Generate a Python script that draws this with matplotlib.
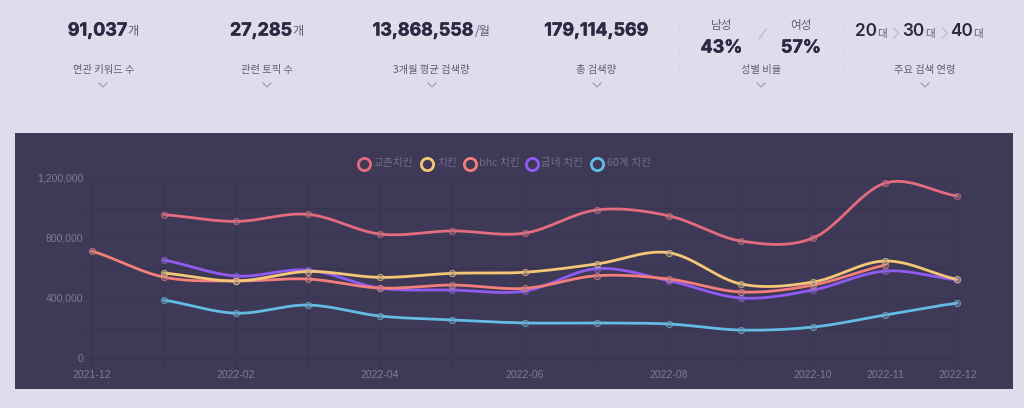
import numpy as np
import matplotlib
matplotlib.use("Agg")
import matplotlib.pyplot as plt
import matplotlib.patheffects as pe
from matplotlib.colors import to_rgba
from matplotlib.patches import Rectangle

W, H = 1024, 408
KR = ['Noto Sans CJK KR', 'DejaVu Sans']
NUM = ['Inter', 'Noto Sans CJK KR', 'DejaVu Sans']
plt.rcParams['font.family'] = KR

months = ['2021-12', '2022-01', '2022-02', '2022-03', '2022-04', '2022-05', '2022-06',
          '2022-07', '2022-08', '2022-09', '2022-10', '2022-11', '2022-12']
shown_ticks = ['2021-12', '2022-02', '2022-04', '2022-06', '2022-08', '2022-10', '2022-11', '2022-12']
nan = float('nan')
kyochon = [nan, 953000, 908000, 955000, 824000, 845000, 830000, 984000, 945000, 778000, 798000, 1163000, 1077000]
chicken = [nan, 565000, 512000, 575000, 536000, 563000, 570000, 625000, 700000, 492000, 505000, 645000, 522000]
bhc = [711000, 538000, 512000, 525000, 465000, 485000, 463000, 547000, 525000, 439000, 485000, 618000, nan]
goobne = [nan, 651000, 545000, 585000, 465000, 452000, 445000, 594000, 514000, 399000, 452000, 578000, 519000]
sixty = [nan, 385000, 298000, 352000, 279000, 253000, 233000, 233000, 226000, 186000, 206000, 286000, 365000]
series_names = ['교촌치킨', '치킨', 'bhc 치킨', '굽네 치킨', '60계 치킨']
series_values = [kyochon, chicken, bhc, goobne, sixty]
series_colors = ['#E56B7E', '#F5C877', '#F47F7A', '#8F5BF2', '#62BCE4']
series_order = [6, 5, 4, 3, 2]

kpi_values = ['91,037', '27,285', '13,868,558', '179,114,569']
kpi_units = ['개', '개', '/월', '']
kpi_labels = ['연관 키워드 수', '관련 토픽 수', '3개월 평균 검색량', '총 검색량']
gender_labels = ['남성', '여성']
gender_values = ['43%', '57%']
age_values = ['20', '30', '40']

BG = '#DEDDEC'
PANEL = '#3E3956'
DARK = '#2C2A42'
GREY = '#5F5D76'
GRID = '#38334F'
TICK = '#7F7B93'
BOLD = [pe.withStroke(linewidth=0.35, foreground=DARK)]

fig = plt.figure(figsize=(W / 100, H / 100), dpi=100, facecolor=BG)
over = fig.add_axes([0, 0, 1, 1], zorder=0)
over.set_xlim(0, W)
over.set_ylim(H, 0)
over.axis('off')

over.add_patch(Rectangle((15, 133), 998, 256, fc=PANEL, ec='none'))
for x, c in zip([185, 350, 515, 679, 843], ['#DBDAEA', '#DBDAEA', '#D7D6E7', '#D3D2E4', '#D3D2E4']):
    over.plot([x, x], [17, 90], color=c, lw=0.6, ls=(0, (2, 2)))


def chevron(cx, cy=85):
    over.plot([cx - 4, cx, cx + 4], [cy - 2, cy + 2, cy - 2], color='#9C9AB0', lw=0.8)


def value_with_unit(cx, y, num, unit, size=12.9, usize=8.8, gap=0.5):
    r = fig.canvas.get_renderer()
    a = over.text(0, y, num, fontsize=size, fontweight='bold', color=DARK, family=NUM, va='center', ha='left',
                  path_effects=BOLD)
    wa = a.get_window_extent(r).width
    wb = 0
    if unit:
        b = over.text(0, y + 0.5, unit, fontsize=usize, color=GREY, family=KR, va='center', ha='left')
        wb = b.get_window_extent(r).width
    x0 = cx - (wa + gap + wb) / 2
    a.set_x(x0)
    if unit:
        b.set_x(x0 + wa + gap)


for cx, chev, v, u, l in zip([103.5, 267, 431.5, 596.5], [103, 267, 432, 597], kpi_values, kpi_units, kpi_labels):
    value_with_unit(cx, 31, v, u)
    over.text(cx, 69.5, l, fontsize=7.4, color=GREY, ha='center', va='center')
    chevron(chev)

# gender block
for cx, g, p in zip([721.5, 801], gender_labels, gender_values):
    over.text(cx, 26, g, fontsize=8.4, color=GREY, ha='center', va='center')
    over.text(cx, 48, p, fontsize=12.9, fontweight='bold', color=DARK, family=NUM, ha='center', va='center',
              path_effects=BOLD)
over.plot([759, 766], [39, 29], color='#B9B8CB', lw=0.9)
over.text(761, 69.5, '성별 비율', fontsize=7.4, color=GREY, ha='center', va='center')
chevron(761)

# age block
for x0, a in zip([854.5, 902.5, 950.5], age_values):
    over.text(x0, 32, a, fontsize=12.4, fontweight='semibold', color=DARK, family=NUM, ha='left', va='center')
    over.text(x0 + 22.5, 34, '대', fontsize=7.6, color=GREY, ha='left', va='center')
for cx in [896, 945]:
    over.plot([cx - 2.5, cx + 2.5, cx - 2.5], [28, 33, 38], color='#BDBCCE', lw=0.9)
over.text(925, 69.5, '주요 검색 연령', fontsize=7.4, color=GREY, ha='center', va='center')
chevron(925)

# chart
x_left, x_right, y_top, y_bot = 91.5, 957.5, 177.5, 358.0
ax = fig.add_axes([x_left / W, 1 - y_bot / H, (x_right - x_left) / W, (y_bot - y_top) / H], zorder=1)
ax.patch.set_alpha(0)
for s in ax.spines.values():
    s.set_visible(False)
x_idx = np.arange(len(months))
ax.set_xlim(0, len(months) - 1)
ax.set_ylim(0, 1200000)

for y in np.arange(0, 1200001, 200000):
    ax.plot([-0.11, 12], [y, y], color='#2F2B42' if y == 0 else GRID, lw=0.7, clip_on=False, zorder=1,
            ls=(0, (1.5, 1.5)) if y == 0 else '-')
for x in x_idx:
    ax.plot([x, x], [-60000, 1200000], color=GRID, lw=0.6, clip_on=False, zorder=1)

ax.set_yticks([0, 400000, 800000, 1200000])
ax.set_yticklabels(['0', '400,000', '800,000', '1,200,000'], family=['Liberation Sans'], fontsize=7.6, color=TICK)
ax.set_xticks([months.index(m) for m in shown_ticks])
ax.set_xticklabels(shown_ticks, family=['Liberation Sans'], fontsize=7.6, color=TICK)
ax.tick_params(length=0, axis='y', pad=6)
ax.tick_params(length=0, axis='x', pad=9)


def smooth(xs, ys, n=30):
    """Catmull-Rom style drawing path through the data points."""
    xs, ys = np.asarray(xs, float), np.asarray(ys, float)
    m = np.zeros_like(ys)
    m[1:-1] = (ys[2:] - ys[:-2]) / 2
    m[0] = (ys[1] - ys[0]) * 0.8
    m[-1] = (ys[-1] - ys[-2]) * 0.8
    out_x, out_y = [], []
    for i in range(len(xs) - 1):
        t = np.linspace(0, 1, n)
        h00 = 2 * t**3 - 3 * t**2 + 1
        h10 = t**3 - 2 * t**2 + t
        h01 = -2 * t**3 + 3 * t**2
        h11 = t**3 - t**2
        out_x.append(xs[i] + t * (xs[i + 1] - xs[i]))
        out_y.append(h00 * ys[i] + h10 * m[i] + h01 * ys[i + 1] + h11 * m[i + 1])
    return np.concatenate(out_x), np.concatenate(out_y)


for z, vals, col in zip(series_order, series_values, series_colors):
    v = np.array(vals, float)
    ok = ~np.isnan(v)
    sx, sy = smooth(x_idx[ok], v[ok])
    ax.plot(sx, sy, color=col, lw=2.0, zorder=z, solid_capstyle='round', clip_on=False)
    ax.plot(x_idx[ok], v[ok], ls='none', marker='o', ms=4.4,
            mfc=to_rgba('#7F7B90', 0.35), mec=to_rgba(col, 0.7), mew=0.8, zorder=z + 0.5, clip_on=False)

# legend
legend_ring_x = [363.5, 427, 469.5, 531.5, 597]
legend_text_x = [373, 437, 479, 541, 607]
for rx, tx, name, col in zip(legend_ring_x, legend_text_x, series_names, series_colors):
    over.plot([rx], [164], marker='o', ms=8.8, mfc='none', mec=col, mew=2.0, ls='none')
    over.text(tx, 163, name, fontsize=7.7, color='#726E88', ha='left', va='center')

fig.savefig('out.png', dpi=100, facecolor=BG)
